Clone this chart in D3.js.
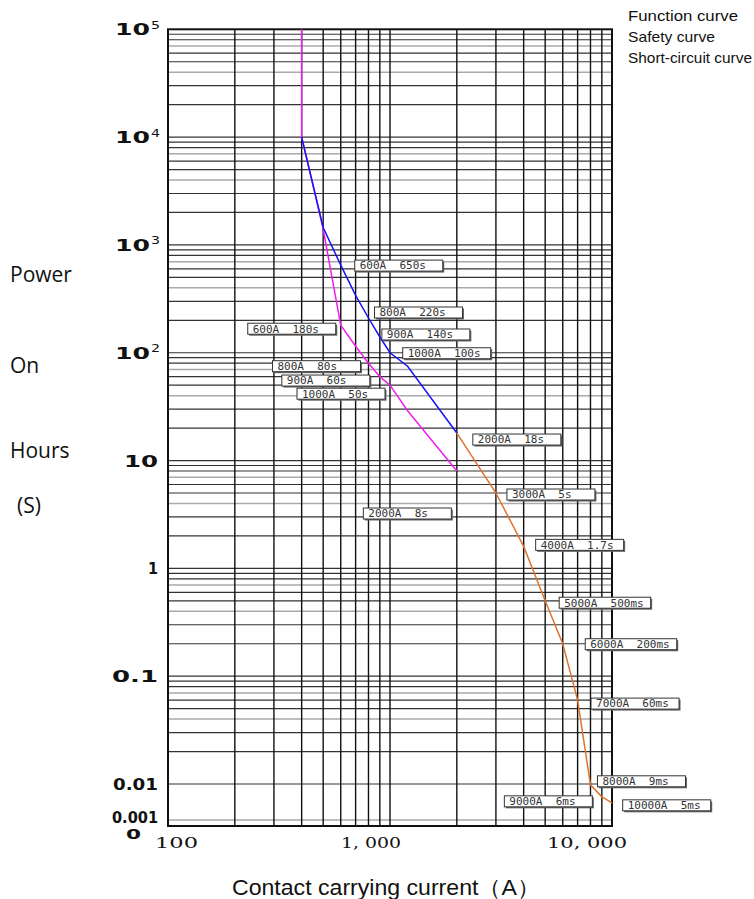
<!DOCTYPE html>
<html lang="en">
<head>
<meta charset="UTF-8">
<title>Contact carrying current vs power on hours</title>
<script src="https://d3js.org/d3.v7.min.js"></script>
<style>
  body { margin: 0; background: #fff; }
  svg { display: block; }
  .callout text { font-family: "DejaVu Sans Mono", monospace; font-size: 11px; fill: #333; white-space: pre; }
</style>
</head>
<body>
<script>
// curves: current (A) and time (s)
const safetyCurrent = [400, 400, 500, 600, 700, 800, 900, 1000, 1200, 2000];
const safetyTime = [100000, 10000, 1400, 180, 115, 80, 60, 50, 29, 8];
const functionCurrent = [400, 500, 600, 700, 800, 900, 1000, 1200, 2000];
const functionTime = [10000, 1450, 650, 340, 210, 140, 100, 75, 18];
const shortCurrent = [2000, 3000, 4000, 5000, 6000, 7000, 8000, 9000, 10000];
const shortTime = [18, 5, 1.6, 0.5, 0.2, 0.06, 0.0095, 0.0044, 0.003];

// callout boxes
const calloutText = ["600A  650s", "800A  220s", "900A  140s", "1000A  100s", "2000A  18s",
  "600A  180s", "800A  80s", "900A  60s", "1000A  50s", "2000A  8s",
  "3000A  5s", "4000A  1.7s", "5000A  500ms", "6000A  200ms", "7000A  60ms",
  "8000A  9ms", "9000A  6ms", "10000A  5ms"];
const calloutCurrent = [600, 800, 900, 1000, 2000, 600, 800, 900, 1000, 2000,
  3000, 4000, 5000, 6000, 7000, 8000, 9000, 10000];
const calloutTime = [650, 210, 140, 100, 18, 180, 80, 60, 50, 8,
  5, 1.6, 0.5, 0.2, 0.06, 0.0095, 0.0044, 0.003];

const legendLabels = ["Function curve", "Safety curve", "Short-circuit curve"];
const yTickValues = [1e5, 1e4, 1e3, 100, 10, 1, 0.1, 0.01, 0.001];
const yTickBase = ["10", "10", "10", "10", "10", "1", "0.1", "0.01", "0.001"];
const yTickExp = ["5", "4", "3", "2", "", "", "", "", ""];
const xTickValues = [100, 1000, 10000];
const xTickLabels = ["100", "1, 000", "10, 000"];
const yTitleLines = ["Power", "On", "Hours", "(S)"];
const xTitle = "Contact carrying current（A）";

// layout
const W = 754, H = 899;
const plotLeft = 168, plotRight = 612, plotTop = 29.3, plotBottom = 826;
const calloutOffset = [[14, -5], [6, -11], [2, -8], [12.7, -5], [16, 1],
  [-93, -2], [-96, -2.5], [-98, -1.6], [-93, 3], [-93.5, 37],
  [11, -4], [12, -7], [14, -3.6], [22.5, -5], [13.4, -2],
  [7, -9], [-97.5, -1], [10.7, -3]];
const yTickWidth = [35, 35, 35, 35, 34, 10, 46, 45, 46];
const yTickShift = [6, 6, 6, 6, 6, 6, 6, 6, 3];
const xTickStart = [155, 341, 547];
const xTickWidth = [43, 60, 80];

const svg = d3.select("body").append("svg")
  .attr("width", W)
  .attr("height", H);

const x = d3.scaleLog().domain([100, 10000]).range([plotLeft, plotRight]);
const y = d3.scaleLog().domain([0.001, 0.01, 1e5]).range([820, 784, plotTop]);

// horizontal grid
const hLines = [];
for (let e = -2; e <= 4; e++) {
  for (let m = 1; m <= 9; m++) {
    hLines.push({ v: m * Math.pow(10, e), grey: m === 4 || m === 7 });
  }
}
hLines.push({ v: 0.001, grey: true });

svg.append("g").selectAll("line")
  .data(hLines)
  .enter().append("line")
  .attr("x1", plotLeft).attr("x2", plotRight)
  .attr("y1", d => y(d.v)).attr("y2", d => y(d.v))
  .attr("stroke", d => d.grey ? "#aaa" : "#333")
  .attr("stroke-width", d => d.grey ? 1.5 : 1.2);

// vertical grid
const vLines = [];
for (let e = 2; e <= 3; e++) {
  for (let m = 2; m <= 9; m++) vLines.push(m * Math.pow(10, e));
}
vLines.push(1000);

svg.append("g").selectAll("line")
  .data(vLines)
  .enter().append("line")
  .attr("x1", d => x(d)).attr("x2", d => x(d))
  .attr("y1", plotTop).attr("y2", plotBottom)
  .attr("stroke", "#111")
  .attr("stroke-width", 1.4);

// frame
svg.append("rect")
  .attr("x", plotLeft).attr("y", plotTop)
  .attr("width", plotRight - plotLeft).attr("height", plotBottom - plotTop)
  .attr("fill", "none")
  .attr("stroke", "#111")
  .attr("stroke-width", 2);

// curves
const line = d3.line().x(d => x(d[0])).y(d => y(d[1]));
const curves = [
  { cur: safetyCurrent, time: safetyTime, color: "#f01ef0" },
  { cur: functionCurrent, time: functionTime, color: "#1414f5" },
  { cur: shortCurrent, time: shortTime, color: "#e0742e" }
];
curves.forEach(c => {
  svg.append("path")
    .datum(d3.zip(c.cur, c.time))
    .attr("d", line)
    .attr("fill", "none")
    .attr("stroke", c.color)
    .attr("stroke-width", 1.5);
});

// callouts
const callouts = svg.append("g").attr("class", "callout");
calloutText.forEach((t, i) => {
  const bx = x(calloutCurrent[i]) + calloutOffset[i][0];
  const by = y(calloutTime[i]) + calloutOffset[i][1];
  const g = callouts.append("g").attr("transform", `translate(${bx},${by})`);
  const shadow = g.append("rect").attr("x", 1.5).attr("y", 1.5).attr("height", 11).attr("fill", "#666");
  const box = g.append("rect").attr("height", 11).attr("fill", "#fff").attr("stroke", "#333").attr("stroke-width", 1);
  const txt = g.append("text").attr("x", 5).attr("y", 9.3).text(t);
  const w = Math.max(88, txt.node().getComputedTextLength() + 12);
  shadow.attr("width", w);
  box.attr("width", w);
});

// y tick labels
yTickValues.forEach((v, i) => {
  const ty = y(v);
  const hasExp = yTickExp[i] !== "";
  const rightEdge = hasExp ? 150 : 158;
  svg.append("text")
    .attr("x", rightEdge - yTickWidth[i])
    .attr("y", ty + yTickShift[i])
    .attr("textLength", yTickWidth[i])
    .attr("lengthAdjust", "spacingAndGlyphs")
    .attr("font-family", "DejaVu Sans")
    .attr("font-weight", "bold")
    .attr("font-size", 16)
    .attr("fill", "#111")
    .text(yTickBase[i]);
  if (hasExp) {
    svg.append("text")
      .attr("x", 151)
      .attr("y", ty - 0.5)
      .attr("textLength", 9)
      .attr("lengthAdjust", "spacingAndGlyphs")
      .attr("font-family", "DejaVu Sans")
      .attr("font-size", 11)
      .attr("fill", "#111")
      .text(yTickExp[i]);
  }
});
svg.append("text")
  .attr("x", 126).attr("y", plotBottom + 13)
  .attr("textLength", 15)
  .attr("lengthAdjust", "spacingAndGlyphs")
  .attr("font-family", "DejaVu Sans")
  .attr("font-weight", "bold")
  .attr("font-size", 14)
  .attr("fill", "#111")
  .text("0");

// x tick labels
xTickValues.forEach((v, i) => {
  svg.append("text")
    .attr("x", xTickStart[i])
    .attr("y", 848)
    .attr("textLength", xTickWidth[i])
    .attr("lengthAdjust", "spacingAndGlyphs")
    .attr("font-family", "DejaVu Serif")
    .attr("font-size", 14)
    .attr("fill", "#111")
    .text(xTickLabels[i]);
});

// axis titles
const yTitleBase = [282, 373, 458, 513];
const yTitleX = [10, 10, 10, 17];
yTitleLines.forEach((t, i) => {
  svg.append("text")
    .attr("x", yTitleX[i]).attr("y", yTitleBase[i])
    .attr("font-family", "Open Sans")
    .attr("font-size", 21)
    .attr("fill", "#111")
    .text(t);
});

svg.append("text")
  .attr("x", 232).attr("y", 895)
  .attr("textLength", 308)
  .attr("lengthAdjust", "spacingAndGlyphs")
  .attr("font-family", "Liberation Sans, Arial, sans-serif")
  .attr("font-size", 22)
  .attr("fill", "#111")
  .text(xTitle);

// legend (text only)
const legendWidth = [110, 87, 124];
legendLabels.forEach((t, i) => {
  svg.append("text")
    .attr("x", 628).attr("y", 21 + i * 21)
    .attr("textLength", legendWidth[i])
    .attr("lengthAdjust", "spacingAndGlyphs")
    .attr("font-family", "Liberation Sans, Arial, sans-serif")
    .attr("font-size", 14.5)
    .attr("fill", "#111")
    .text(t);
});
</script>
</body>
</html>
